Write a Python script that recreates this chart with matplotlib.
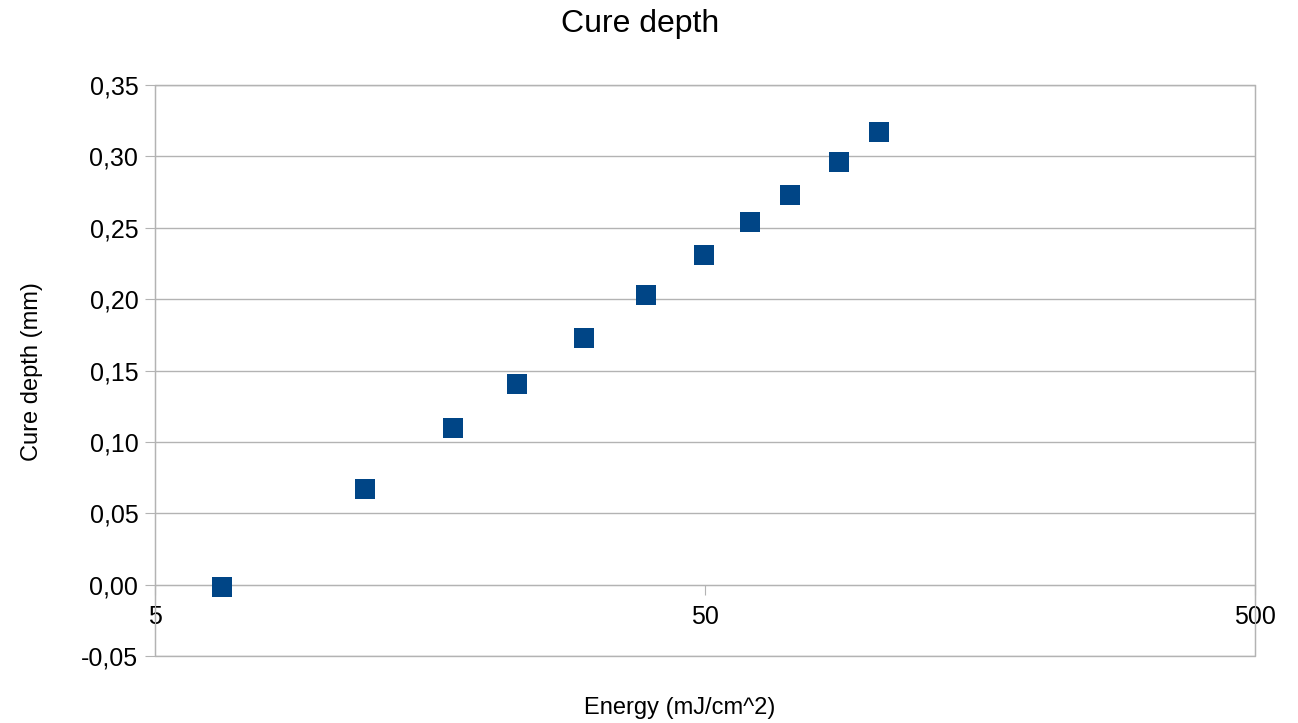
import matplotlib
matplotlib.use("Agg")
import matplotlib.pyplot as plt
from matplotlib.ticker import FixedLocator, FuncFormatter, NullLocator
from matplotlib.patches import Rectangle

energy = [6.62, 12.04, 17.4, 22.76, 30.1, 39.0, 49.8, 60.4, 71.4, 87.6, 103.6]
cure_depth = [-0.0014, 0.0672, 0.110, 0.1408, 0.173, 0.203, 0.231, 0.254, 0.273, 0.296, 0.317]
x_ticks = [5, 50, 500]
y_ticks = [-0.05, 0, 0.05, 0.10, 0.15, 0.20, 0.25, 0.30, 0.35]

plt.rcParams['font.family'] = ['Liberation Sans', 'DejaVu Sans']
grid_c = '#b3b3b3'

fig = plt.figure(figsize=(12.98, 7.23), dpi=100)
ax = fig.add_axes([155/1298, 1-656/723, 1100/1298, (656-85)/723])
ax.set_xscale('log')
ax.set_xlim(5, 500)
ax.set_ylim(-0.05, 0.35)

ax.scatter(energy, cure_depth, marker='s', s=196, color='#004586', zorder=3, linewidths=0)

ax.xaxis.set_major_locator(FixedLocator(x_ticks))
ax.xaxis.set_minor_locator(NullLocator())
ax.xaxis.set_major_formatter(FuncFormatter(lambda v, p: f"{v:g}"))
ax.yaxis.set_major_locator(FixedLocator(y_ticks))
ax.yaxis.set_major_formatter(FuncFormatter(lambda v, p: f"{v:.2f}".replace('.', ',')))

ax.grid(axis='y', color=grid_c, linewidth=1)
ax.set_axisbelow(True)

for s in ['top', 'right', 'left']:
    ax.spines[s].set_color(grid_c)
ax.spines['bottom'].set_position(('data', 0))
ax.spines['bottom'].set_color(grid_c)
ax.add_patch(Rectangle((0, 0), 1, 1, transform=ax.transAxes, fill=False,
                       edgecolor=grid_c, linewidth=1, zorder=0, clip_on=False))

ax.tick_params(axis='x', direction='out', length=7, color=grid_c, labelsize=18, pad=8)
ax.tick_params(axis='y', direction='out', length=7, color=grid_c, labelsize=18, pad=5)

fig.text(640/1298, 1-24/723, 'Cure depth', fontsize=23, ha='center', va='center')
fig.text(32/1298, 1-372/723, 'Cure depth (mm)', fontsize=17, ha='center', va='center', rotation=90)
fig.text(680/1298, 1-708/723, 'Energy (mJ/cm^2)', fontsize=17, ha='center', va='center')

fig.savefig('out.png', dpi=100)
